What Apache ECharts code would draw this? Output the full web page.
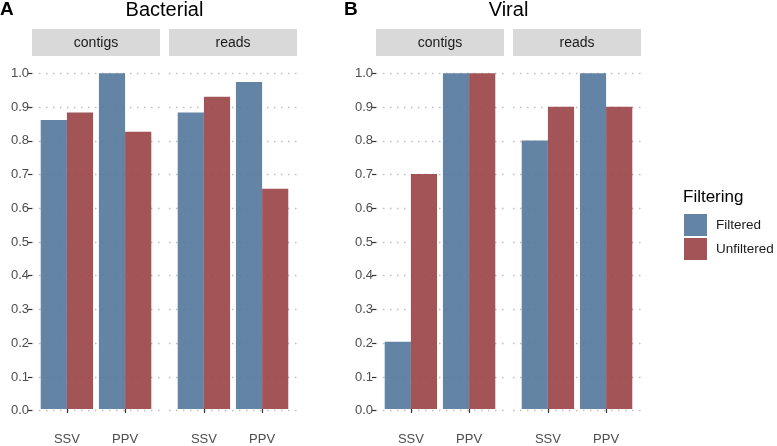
<!DOCTYPE html>
<html>
<head>
<meta charset="utf-8">
<script src="https://cdn.jsdelivr.net/npm/echarts@6/dist/echarts.min.js"></script>
<style>
html, body { margin: 0; padding: 0; background: #fff; }
#chart { width: 777px; height: 446px; }
</style>
</head>
<body>
<div id="chart"></div>
<script>
// categories and facets
const categories = ['SSV', 'PPV']
const facetNames = ['contigs', 'reads']
const seriesNames = ['Filtered', 'Unfiltered']

// Bacterial (panel A)
const bactContigsFiltered = [0.861, 1.0]
const bactContigsUnfiltered = [0.883, 0.826]
const bactReadsFiltered = [0.883, 0.974]
const bactReadsUnfiltered = [0.930, 0.656]

// Viral (panel B)
const viralContigsFiltered = [0.2, 1.0]
const viralContigsUnfiltered = [0.7, 1.0]
const viralReadsFiltered = [0.8, 1.0]
const viralReadsUnfiltered = [0.9, 0.9]

// y axis ticks
const yMin = 0
const yMax = 1
const yStep = 0.1

const FONT = 'Liberation Sans'
const BLUE = 'rgba(86,122,157,0.92)'
const RED = 'rgba(155,69,72,0.92)'

// facet layout: left edge of each facet panel
const facets = [
  { left: 32, name: facetNames[0], first: true, data: [bactContigsFiltered, bactContigsUnfiltered] },
  { left: 169, name: facetNames[1], first: false, data: [bactReadsFiltered, bactReadsUnfiltered] },
  { left: 376, name: facetNames[0], first: true, data: [viralContigsFiltered, viralContigsUnfiltered] },
  { left: 513, name: facetNames[1], first: false, data: [viralReadsFiltered, viralReadsUnfiltered] }
]
const panelW = 128
const plotTop = 73.3
const plotH = 337.4
const dataW = 116.4

const grid = []
const xAxis = []
const yAxis = []
const series = []
const graphic = []

facets.forEach((f, i) => {
  // background grid: gridlines + y labels
  grid.push({ left: f.left, top: plotTop, width: panelW, height: plotH })
  xAxis.push({ type: 'category', gridIndex: 2 * i, data: categories, show: false })
  yAxis.push({
    type: 'value', gridIndex: 2 * i, min: yMin, max: yMax, interval: yStep,
    axisLine: { show: false },
    axisTick: { show: f.first, length: 4, lineStyle: { color: '#333', width: 1.2 } },
    axisLabel: {
      show: f.first, margin: 3, fontSize: 13, color: '#4d4d4d', fontFamily: FONT,
      formatter: v => v.toFixed(1)
    },
    splitLine: { lineStyle: { color: '#bdbdbd', width: 1.3, type: [1.5, 5.5] } }
  })
  // data grid
  grid.push({ left: f.left + (panelW - dataW) / 2, top: plotTop, width: dataW, height: plotH })
  xAxis.push({
    type: 'category', gridIndex: 2 * i + 1, data: categories, offset: 17,
    axisLine: { show: false },
    axisTick: { show: true, alignWithLabel: true, length: 4, lineStyle: { color: '#333', width: 1.2 } },
    axisLabel: { margin: 7, fontSize: 13, color: '#4d4d4d', fontFamily: FONT }
  })
  yAxis.push({ type: 'value', gridIndex: 2 * i + 1, min: yMin, max: yMax, show: false })
  f.data.forEach((vals, s) => {
    series.push({
      name: seriesNames[s], type: 'bar', xAxisIndex: 2 * i + 1, yAxisIndex: 2 * i + 1,
      data: vals, barGap: '0%', barCategoryGap: '10%',
      itemStyle: { color: s === 0 ? BLUE : RED },
      emphasis: { disabled: true }
    })
  })
  // facet strip
  graphic.push({
    type: 'rect', left: f.left, top: 29, shape: { width: panelW, height: 27 },
    style: { fill: '#d9d9d9' }, z: 0
  })
  graphic.push({
    type: 'text', x: f.left + panelW / 2, y: 43,
    style: { text: f.name, fill: '#1a1a1a', font: '14px ' + FONT, align: 'center', verticalAlign: 'middle' }
  })
})

// panel titles
graphic.push(
  { type: 'text', x: 0, y: 10, style: { text: 'A', fill: '#000', font: 'bold 19px ' + FONT, verticalAlign: 'middle' } },
  { type: 'text', x: 164.5, y: 10, style: { text: 'Bacterial', fill: '#000', font: '20px ' + FONT, align: 'center', verticalAlign: 'middle' } },
  { type: 'text', x: 344, y: 10, style: { text: 'B', fill: '#000', font: 'bold 19px ' + FONT, verticalAlign: 'middle' } },
  { type: 'text', x: 508.5, y: 10, style: { text: 'Viral', fill: '#000', font: '20px ' + FONT, align: 'center', verticalAlign: 'middle' } },
  { type: 'text', x: 683, y: 197, style: { text: 'Filtering', fill: '#000', font: '17px ' + FONT, verticalAlign: 'middle' } }
)

const chart = echarts.init(document.getElementById('chart'))
chart.setOption({
  animation: false,
  grid: grid,
  xAxis: xAxis,
  yAxis: yAxis,
  series: series,
  graphic: graphic,
  legend: {
    data: seriesNames, orient: 'vertical', left: 684, top: 214, padding: 0,
    icon: 'rect', itemWidth: 23, itemHeight: 22, itemGap: 2,
    textStyle: { fontSize: 13.5, color: '#1a1a1a', fontFamily: FONT, padding: [0, 0, 0, 4] }
  }
})
</script>
</body>
</html>
